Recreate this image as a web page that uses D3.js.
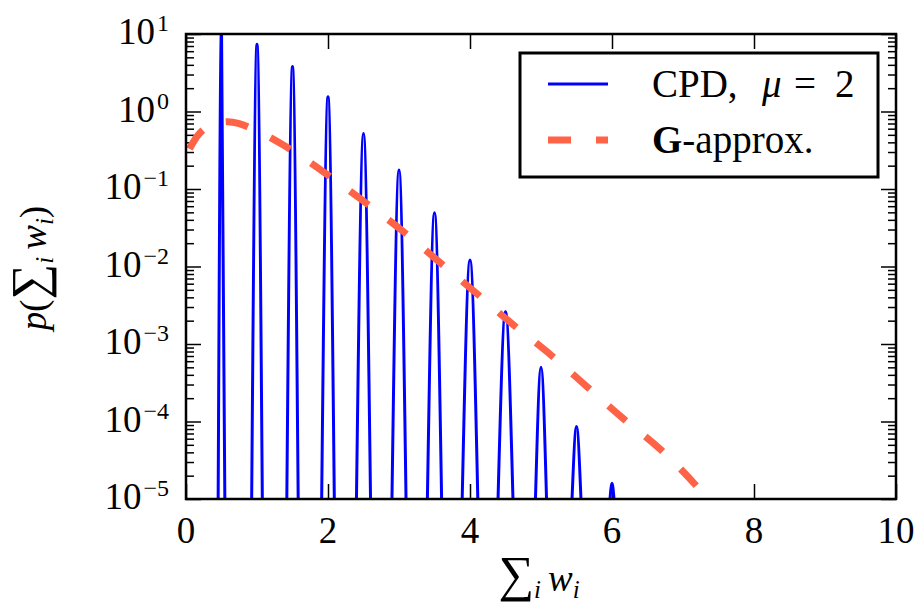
<!DOCTYPE html>
<html>
<head>
<meta charset="utf-8">
<script src="https://cdn.jsdelivr.net/npm/d3@7"></script>
<style>
  body { margin: 0; background: #fff; }
  svg text { font-family: "Liberation Serif", "DejaVu Serif", serif; fill: #000; }
</style>
</head>
<body>
<div id="chart"></div>
<script>
// axis ticks
const xTicks = [0, 2, 4, 6, 8, 10];
const yExponents = [1, 0, -1, -2, -3, -4, -5];

// CPD spikes (mu = 2): centre, peak height, half-width at the 1e-5 floor
const spikeCenters = [0.5, 1, 1.5, 2, 2.5, 3, 3.5, 4, 4.5, 5, 5.5, 6];
const spikePeaks = [12, 7.4, 3.8, 1.55, 0.52, 0.176, 0.0495, 0.0121, 0.0026, 0.0005, 0.000086, 0.000016];
const spikeHalfWidths = [0.047, 0.075, 0.08, 0.089, 0.099, 0.099, 0.1, 0.11, 0.105, 0.078, 0.063, 0.028];

// G-approx. curve
const gammaX = [0.05, 0.15, 0.27, 0.4, 0.58, 0.75, 0.9, 1.37, 1.93, 2.48, 3.11, 3.56, 4.08, 4.6, 5.14, 5.65, 6.17, 6.69, 7.24, 7.6];
const gammaY = [0.33, 0.47, 0.61, 0.70, 0.74, 0.70, 0.62, 0.37, 0.168, 0.072, 0.026, 0.0116, 0.0046, 0.0018, 7.2e-4, 2.8e-4, 1.07e-4, 4.3e-5, 1.3e-5, 5e-6];

const W = 920, H = 609;
const margin = { left: 186, right: 24, top: 34, bottom: 110 };
const iw = W - margin.left - margin.right;
const ih = H - margin.top - margin.bottom;

const svg = d3.select("#chart").append("svg")
  .attr("width", W)
  .attr("height", H);

const g = svg.append("g").attr("transform", `translate(${margin.left},${margin.top})`);

const x = d3.scaleLinear().domain([0, 10]).range([0, iw]);
const y = d3.scaleLog().domain([1e-5, 10]).range([ih, 0]);

g.append("clipPath").attr("id", "clip")
  .append("rect").attr("width", iw).attr("height", ih);

// minor log ticks
const minorY = [];
yExponents.slice(1).forEach(e => {
  for (let k = 2; k <= 9; k++) minorY.push(k * Math.pow(10, e));
});

function styleAxis(sel) {
  sel.select(".domain").remove();
  sel.selectAll("line").attr("stroke", "#000").attr("stroke-width", 1.5);
}

const majorY = yExponents.map(e => Math.pow(10, e));
g.append("g").call(d3.axisLeft(y).tickValues(majorY).tickSize(-15).tickFormat("")).call(styleAxis);
g.append("g").call(d3.axisLeft(y).tickValues(minorY).tickSize(-8).tickFormat("")).call(styleAxis);
g.append("g").attr("transform", `translate(${iw},0)`)
  .call(d3.axisRight(y).tickValues(majorY).tickSize(-15).tickFormat("")).call(styleAxis);
g.append("g").attr("transform", `translate(${iw},0)`)
  .call(d3.axisRight(y).tickValues(minorY).tickSize(-8).tickFormat("")).call(styleAxis);
g.append("g").attr("transform", `translate(0,${ih})`)
  .call(d3.axisBottom(x).tickValues(xTicks).tickSize(-15).tickFormat("")).call(styleAxis);
g.append("g")
  .call(d3.axisTop(x).tickValues(xTicks).tickSize(-15).tickFormat("")).call(styleAxis);

// tick labels
g.selectAll(".xlab").data(xTicks).join("text")
  .attr("class", "xlab")
  .attr("x", d => x(d))
  .attr("y", ih + 44)
  .attr("text-anchor", "middle")
  .attr("font-size", 37)
  .text(d => d);

const ylab = g.selectAll(".ylab").data(yExponents).join("text")
  .attr("class", "ylab")
  .attr("x", -17)
  .attr("y", d => y(Math.pow(10, d)) + 10)
  .attr("text-anchor", "end")
  .attr("font-size", 37);
ylab.append("tspan").text("10");
ylab.append("tspan")
  .attr("dx", 2)
  .attr("dy", -13)
  .attr("font-size", 24)
  .text(d => d < 0 ? "\u2212" + (-d) : d);

// CPD spikes
const line = d3.line()
  .x(d => x(d[0]))
  .y(d => y(d[1]))
  .curve(d3.curveMonotoneX);

const spikes = spikeCenters.map((c, i) => [
  [c - spikeHalfWidths[i], 1e-5],
  [c, spikePeaks[i]],
  [c + spikeHalfWidths[i], 1e-5]
]);

const plot = g.append("g").attr("clip-path", "url(#clip)");

plot.selectAll(".spike").data(spikes).join("path")
  .attr("class", "spike")
  .attr("d", line)
  .attr("fill", "none")
  .attr("stroke", "#0000ff")
  .attr("stroke-width", 3);

// G-approx.
const gammaData = gammaX.map((v, i) => [v, gammaY[i]]);
plot.append("path")
  .datum(gammaData)
  .attr("d", line)
  .attr("fill", "none")
  .attr("stroke", "#ff6347")
  .attr("stroke-width", 7)
  .attr("stroke-dasharray", "23 25");

// frame
g.append("rect")
  .attr("width", iw)
  .attr("height", ih)
  .attr("fill", "none")
  .attr("stroke", "#000")
  .attr("stroke-width", 2.5);

// legend
const leg = svg.append("g");
leg.append("rect")
  .attr("x", 520).attr("y", 53)
  .attr("width", 358).attr("height", 124)
  .attr("fill", "#fff")
  .attr("stroke", "#000")
  .attr("stroke-width", 3);
leg.append("line")
  .attr("x1", 548).attr("x2", 608).attr("y1", 84).attr("y2", 84)
  .attr("stroke", "#0000ff").attr("stroke-width", 3);
leg.append("line")
  .attr("x1", 548).attr("x2", 608).attr("y1", 140).attr("y2", 140)
  .attr("stroke", "#ff6347").attr("stroke-width", 7)
  .attr("stroke-dasharray", "23 25");

const t1 = leg.append("text").attr("y", 97).attr("font-size", 39);
t1.append("tspan").attr("x", 652).text("CPD,");
t1.append("tspan").attr("x", 762).attr("font-style", "italic").text("\u03bc");
t1.append("tspan").attr("x", 794).text("=");
t1.append("tspan").attr("x", 835).text("2");

const t2 = leg.append("text").attr("x", 652).attr("y", 153).attr("font-size", 39);
t2.append("tspan").attr("font-weight", "bold").text("G");
t2.append("tspan").text("-approx.");

// axis labels
const xl = svg.append("text")
  .attr("x", 539).attr("y", 591)
  .attr("text-anchor", "middle")
  .attr("font-size", 37);
xl.append("tspan").attr("font-size", 50).text("\u2211");
xl.append("tspan").attr("font-style", "italic").attr("font-size", 25).attr("dy", 7).text("i");
xl.append("tspan").attr("font-style", "italic").attr("dy", -7).attr("dx", 7).text("w");
xl.append("tspan").attr("font-style", "italic").attr("font-size", 25).attr("dy", 7).text("i");

const yl = svg.append("text")
  .attr("transform", "translate(46,268) rotate(-90)")
  .attr("text-anchor", "middle")
  .attr("font-size", 37);
yl.append("tspan").attr("font-style", "italic").text("p");
yl.append("tspan").text("(");
yl.append("tspan").attr("font-size", 50).text("\u2211");
yl.append("tspan").attr("font-style", "italic").attr("font-size", 25).attr("dy", 7).text("i");
yl.append("tspan").attr("font-style", "italic").attr("dy", -7).attr("dx", 7).text("w");
yl.append("tspan").attr("font-style", "italic").attr("font-size", 25).attr("dy", 7).text("i");
yl.append("tspan").attr("dy", -7).text(")");
</script>
</body>
</html>
